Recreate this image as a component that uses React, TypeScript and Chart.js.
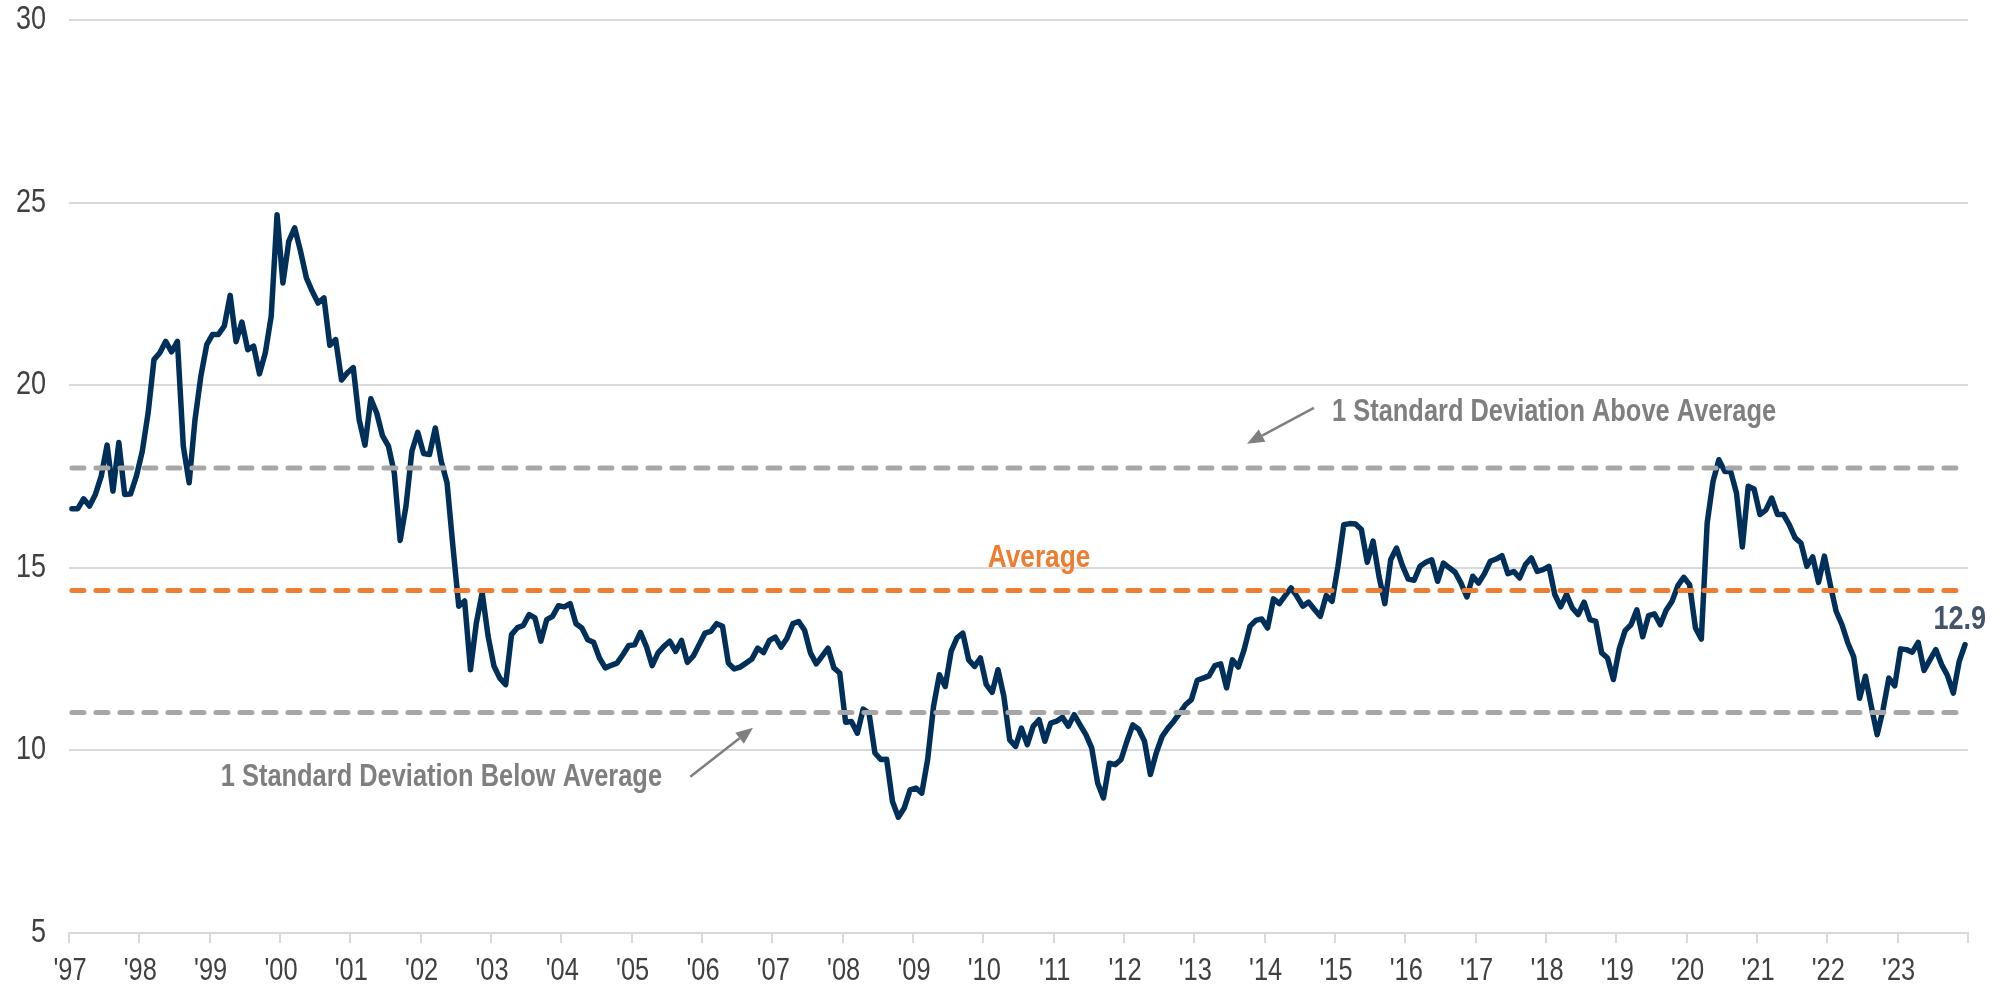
import React, { useEffect, useRef } from "react";
import { Chart, registerables } from "chart.js";

Chart.register(...registerables);

// Monthly forward P/E readings, Jan..Dec of each year
const pe1997 = [16.62, 16.62, 16.89, 16.69, 17.01, 17.51, 18.36, 17.1, 18.43, 17.01, 17.02, 17.51];
const pe1998 = [18.19, 19.24, 20.7, 20.89, 21.2, 20.91, 21.2, 18.33, 17.33, 19.06, 20.25, 21.11];
const pe1999 = [21.39, 21.39, 21.62, 22.46, 21.19, 21.73, 20.97, 21.07, 20.31, 20.89, 21.89, 24.67];
const pe2000 = [22.8, 23.94, 24.31, 23.67, 22.94, 22.57, 22.25, 22.39, 21.09, 21.25, 20.14, 20.34];
const pe2001 = [20.48, 19.06, 18.36, 19.63, 19.24, 18.61, 18.33, 17.6, 15.75, 16.69, 18.19, 18.71];
const pe2002 = [18.13, 18.1, 18.83, 17.92, 17.33, 15.59, 13.95, 14.09, 12.21, 13.49, 14.32, 13.13];
const pe2003 = [12.31, 11.98, 11.8, 13.17, 13.36, 13.42, 13.72, 13.63, 12.99, 13.58, 13.67, 13.96];
const pe2004 = [13.93, 14.02, 13.47, 13.35, 13.03, 12.96, 12.53, 12.26, 12.33, 12.39, 12.62, 12.87];
const pe2005 = [12.89, 13.23, 12.85, 12.32, 12.67, 12.85, 12.99, 12.71, 13.01, 12.41, 12.58, 12.89];
const pe2006 = [13.21, 13.26, 13.47, 13.4, 12.39, 12.23, 12.28, 12.39, 12.5, 12.8, 12.68, 13.01];
const pe2007 = [13.1, 12.83, 13.07, 13.47, 13.53, 13.29, 12.67, 12.37, 12.58, 12.8, 12.26, 12.12];
const pe2008 = [10.77, 10.79, 10.47, 11.13, 11.02, 9.93, 9.75, 9.76, 8.6, 8.17, 8.42, 8.92];
const pe2009 = [8.97, 8.83, 9.75, 11.2, 12.07, 11.75, 12.71, 13.08, 13.21, 12.48, 12.3, 12.53];
const pe2010 = [11.8, 11.59, 12.21, 11.48, 10.29, 10.11, 10.61, 10.16, 10.66, 10.84, 10.25, 10.75];
const pe2011 = [10.8, 10.91, 10.66, 10.98, 10.7, 10.43, 10.06, 9.11, 8.7, 9.65, 9.61, 9.75];
const pe2012 = [10.25, 10.7, 10.58, 10.25, 9.34, 9.93, 10.38, 10.61, 10.8, 11.02, 11.25, 11.39];
const pe2013 = [11.92, 11.98, 12.04, 12.32, 12.37, 11.71, 12.48, 12.28, 12.76, 13.4, 13.56, 13.6];
const pe2014 = [13.35, 14.15, 14.02, 14.24, 14.45, 14.22, 13.95, 14.06, 13.86, 13.67, 14.24, 14.08];
const pe2015 = [15.04, 16.18, 16.21, 16.2, 16.05, 15.15, 15.73, 14.77, 14.02, 15.22, 15.54, 15.06];
const pe2016 = [14.69, 14.66, 15.04, 15.15, 15.22, 14.63, 15.13, 15.0, 14.88, 14.58, 14.2, 14.77];
const pe2017 = [14.58, 14.84, 15.18, 15.24, 15.33, 14.84, 14.9, 14.72, 15.09, 15.27, 14.9, 14.95];
const pe2018 = [15.04, 14.27, 13.93, 14.27, 13.9, 13.72, 14.06, 13.58, 13.53, 12.67, 12.53, 11.94];
const pe2019 = [12.78, 13.28, 13.44, 13.85, 13.11, 13.69, 13.74, 13.44, 13.84, 14.08, 14.51, 14.74];
const pe2020 = [14.54, 13.35, 13.05, 16.23, 17.37, 17.96, 17.64, 17.64, 17.05, 15.57, 17.23, 17.16];
const pe2021 = [16.46, 16.58, 16.91, 16.46, 16.46, 16.18, 15.82, 15.68, 15.04, 15.3, 14.6, 15.32];
const pe2022 = [14.54, 13.81, 13.44, 12.94, 12.56, 11.43, 12.03, 11.21, 10.43, 11.11, 11.98, 11.77];
const pe2023 = [12.78, 12.76, 12.69, 12.96, 12.19, 12.48, 12.76, 12.35, 12.05, 11.57, 12.44, 12.9];

const peSeries = [
  ...pe1997, ...pe1998, ...pe1999, ...pe2000, ...pe2001, ...pe2002, ...pe2003,
  ...pe2004, ...pe2005, ...pe2006, ...pe2007, ...pe2008, ...pe2009, ...pe2010,
  ...pe2011, ...pe2012, ...pe2013, ...pe2014, ...pe2015, ...pe2016, ...pe2017,
  ...pe2018, ...pe2019, ...pe2020, ...pe2021, ...pe2022, ...pe2023,
];

const yearTickLabels = [
  "'97", "'98", "'99", "'00", "'01", "'02", "'03", "'04", "'05", "'06", "'07", "'08", "'09", "'10",
  "'11", "'12", "'13", "'14", "'15", "'16", "'17", "'18", "'19", "'20", "'21", "'22", "'23",
];
const yTicks = [5, 10, 15, 20, 25, 30];

const AVERAGE = 14.38;
const PLUS_1SD = 17.73;
const MINUS_1SD = 11.04;
const LATEST_LABEL = "12.9";

// Arial-Narrow look: Liberation Sans (Arial metrics) compressed horizontally
const BASE_FONT = "'Liberation Sans', Arimo, Arial, sans-serif";
const NARROW = 0.82;

const NAVY = "#00305A";
const ORANGE = "#ED7D31";
const GRAY_DASH = "#A6A6A6";
const GRAY_TEXT = "#7F7F7F";
const GRID = "#D9D9D9";
const TICK_TEXT = "#404040";

// Annotation anchors in data space (month index, value)
const annotations = {
  aboveText: { x: 215.5, y: 19.03, text: "1 Standard Deviation Above Average" },
  aboveArrow: { from: { x: 212.4, y: 19.38 }, to: { x: 201.0, y: 18.4 } },
  avgText: { x: 165.5, y: 15.03, text: "Average" },
  belowText: { x: 25.9, y: 9.03, text: "1 Standard Deviation Below Average" },
  belowArrow: { from: { x: 106.0, y: 9.28 }, to: { x: 116.7, y: 10.62 } },
  latest: { x: 322.6, y: 13.33 },
};

function narrowText(ctx: any, text: string, x: number, y: number, align: string, baseline: string, font: string, color: string) {
  ctx.save();
  ctx.translate(x, y);
  ctx.scale(NARROW, 1);
  ctx.font = font;
  ctx.fillStyle = color;
  ctx.textAlign = align;
  ctx.textBaseline = baseline;
  ctx.fillText(text, 0, 0);
  ctx.restore();
}

const tickLabelPlugin = {
  id: "narrowTickLabels",
  afterDraw(chart: any) {
    const { ctx, scales } = chart;
    const xs = scales.x;
    const ys = scales.y;
    xs.ticks.forEach((t: any) => {
      const label = yearTickLabels[Math.round(t.value / 12)];
      if (!label) return;
      narrowText(ctx, label, xs.getPixelForValue(t.value) + 1, 971, "center", "middle", `31px ${BASE_FONT}`, TICK_TEXT);
    });
    ys.ticks.forEach((t: any) => {
      narrowText(ctx, String(t.value), 46, ys.getPixelForValue(t.value), "right", "middle", `33px ${BASE_FONT}`, TICK_TEXT);
    });
  },
};

const annotationPlugin = {
  id: "peAnnotations",
  afterDatasetsDraw(chart: any) {
    const { ctx, scales } = chart;
    const xs = scales.x;
    const ys = scales.y;
    const px = (v: number) => xs.getPixelForValue(v);
    const py = (v: number) => ys.getPixelForValue(v);

    const drawArrow = (a: any) => {
      const x1 = px(a.from.x), y1 = py(a.from.y);
      const x2 = px(a.to.x), y2 = py(a.to.y);
      const ang = Math.atan2(y2 - y1, x2 - x1);
      const headLen = 17, headHalf = 7;
      const bx = x2 - headLen * Math.cos(ang);
      const by = y2 - headLen * Math.sin(ang);
      ctx.save();
      ctx.strokeStyle = GRAY_TEXT;
      ctx.fillStyle = GRAY_TEXT;
      ctx.lineWidth = 2.5;
      ctx.beginPath();
      ctx.moveTo(x1, y1);
      ctx.lineTo(bx, by);
      ctx.stroke();
      ctx.beginPath();
      ctx.moveTo(x2, y2);
      ctx.lineTo(bx + headHalf * Math.sin(ang), by - headHalf * Math.cos(ang));
      ctx.lineTo(bx - headHalf * Math.sin(ang), by + headHalf * Math.cos(ang));
      ctx.closePath();
      ctx.fill();
      ctx.restore();
    };

    const bold = `bold 31px ${BASE_FONT}`;
    narrowText(ctx, annotations.aboveText.text, px(annotations.aboveText.x), py(annotations.aboveText.y), "left", "alphabetic", bold, GRAY_TEXT);
    narrowText(ctx, annotations.belowText.text, px(annotations.belowText.x), py(annotations.belowText.y), "left", "alphabetic", bold, GRAY_TEXT);
    drawArrow(annotations.aboveArrow);
    drawArrow(annotations.belowArrow);
    narrowText(ctx, annotations.avgText.text, px(annotations.avgText.x), py(annotations.avgText.y), "center", "alphabetic", `bold 32px ${BASE_FONT}`, ORANGE);
    narrowText(ctx, LATEST_LABEL, px(annotations.latest.x), py(annotations.latest.y), "center", "alphabetic", `bold 33px ${BASE_FONT}`, "#44546A");
  },
};

export default function App() {
  const canvasRef = useRef<HTMLCanvasElement | null>(null);

  useEffect(() => {
    document.body.style.margin = "0";
    const canvas = canvasRef.current;
    if (!canvas) return;
    const points = peSeries.map((v, i) => ({ x: i + 0.5, y: v }));
    const span = (v: number) => [
      { x: points[0].x, y: v },
      { x: points[points.length - 1].x, y: v },
    ];
    const dashStyle = {
      pointRadius: 0,
      borderWidth: 5,
      borderDash: [12, 12],
      borderCapStyle: "round",
      fill: false,
      order: 0,
    };
    const totalMonths = yearTickLabels.length * 12;

    const chart = new Chart(canvas, {
      type: "line",
      data: {
        datasets: [
          { label: "+1 SD", data: span(PLUS_1SD), borderColor: GRAY_DASH, ...dashStyle } as any,
          { label: "Average", data: span(AVERAGE), borderColor: ORANGE, ...dashStyle } as any,
          { label: "-1 SD", data: span(MINUS_1SD), borderColor: GRAY_DASH, ...dashStyle } as any,
          {
            label: "Forward P/E",
            data: points,
            borderColor: NAVY,
            borderWidth: 5.5,
            pointRadius: 0,
            tension: 0,
            borderJoinStyle: "round",
            borderCapStyle: "round",
            fill: false,
            order: 1,
          } as any,
        ],
      },
      options: {
        animation: false,
        responsive: false,
        maintainAspectRatio: false,
        devicePixelRatio: 1,
        layout: { padding: { top: 20, right: 37, left: 0, bottom: 0 } },
        plugins: { legend: { display: false }, tooltip: { enabled: false } },
        scales: {
          x: {
            type: "linear",
            min: 0,
            max: totalMonths,
            afterBuildTicks: (scale: any) => {
              const t = [];
              for (let m = 0; m <= totalMonths; m += 12) t.push({ value: m });
              scale.ticks = t;
            },
            afterFit: (scale: any) => {
              scale.height = 54;
            },
            ticks: { display: false },
            grid: {
              drawOnChartArea: false,
              drawTicks: true,
              tickLength: 10,
              color: GRID,
              lineWidth: 2,
            },
            border: { display: true, color: GRID, width: 2 },
          },
          y: {
            min: 5,
            max: 30,
            afterBuildTicks: (scale: any) => {
              scale.ticks = yTicks.map((v) => ({ value: v }));
            },
            afterFit: (scale: any) => {
              scale.width = 69;
            },
            ticks: { display: false },
            grid: { color: GRID, lineWidth: 2, drawTicks: false },
            border: { display: false },
          },
        },
      },
      plugins: [annotationPlugin, tickLabelPlugin],
    });
    return () => chart.destroy();
  }, []);

  return (
    <div style={{ width: 2005, height: 987 }}>
      <canvas ref={canvasRef} width={2005} height={987} style={{ display: "block" }} />
    </div>
  );
}
